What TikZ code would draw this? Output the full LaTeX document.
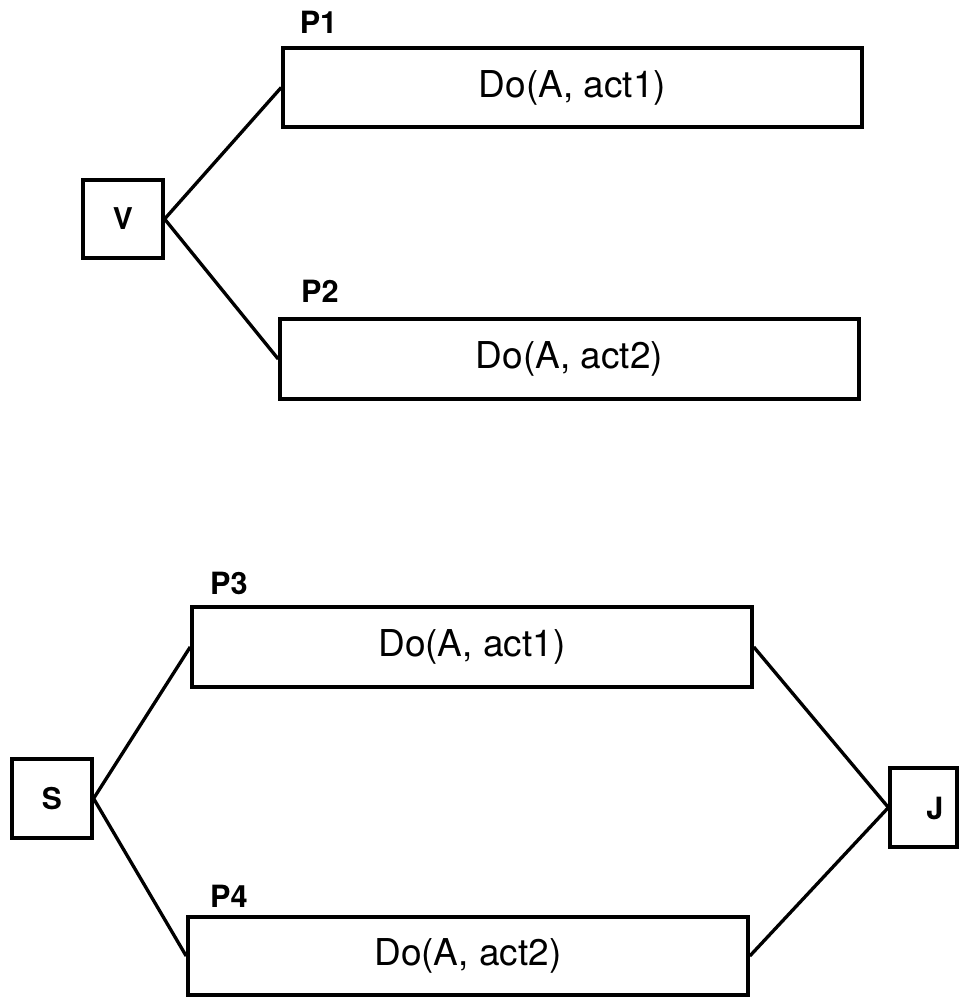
\documentclass[tikz,border=0pt]{standalone}
\usepackage{fontspec}
\setmainfont{TeX Gyre Heros}
\begin{document}
\begin{tikzpicture}[x=0.75pt,y=-0.75pt,
  box/.style={draw, line width=2.7pt, rectangle, inner sep=0pt, font=\fontsize{27.75}{30}\selectfont},
  sq/.style={draw, line width=2.4pt, rectangle, inner sep=0pt, font=\bfseries\fontsize{22.5}{25}\selectfont},
  lab/.style={font=\bfseries\fontsize{23}{25}\selectfont, inner sep=0pt},
  conn/.style={line width=2.5pt}]
\useasboundingbox (0,0) rectangle (959,997);
% top group
\node[sq, minimum width=60pt, minimum height=58.5pt] (V) at (123,219) {V};
\node[box, minimum width=434.25pt, minimum height=59.25pt] (P1) at (572.5,87.5) {Do(A, act1)};
\node[box, minimum width=434.25pt, minimum height=60pt] (P2) at (569.5,359) {Do(A, act2)};
\node[lab] (lP1) at (318.5,22.5) {P1};
\node[lab] (lP2) at (320,291) {P2};
\draw[conn] (V.east) -- (P1.west);
\draw[conn] (V.east) -- (P2.west);
% bottom group
\node[sq, minimum width=60pt, minimum height=59.25pt] (S) at (52,798.5) {S};
\node[box, minimum width=420pt, minimum height=60pt] (P3) at (472,647) {Do(A, act1)};
\node[box, minimum width=420pt, minimum height=58.5pt] (P4) at (468,956) {Do(A, act2)};
\node[sq, minimum width=50.25pt, minimum height=59.25pt] (J) at (923.5,807.5) {};
\node[lab] (Jt) at (935,808) {J};
\node[lab] (lP3) at (229,583) {P3};
\node[lab] (lP4) at (229,896) {P4};
\draw[conn] (S.east) -- (P3.west);
\draw[conn] (S.east) -- (P4.west);
\draw[conn] (P3.east) -- (J.west);
\draw[conn] (P4.east) -- (J.west);
\end{tikzpicture}
\end{document}
